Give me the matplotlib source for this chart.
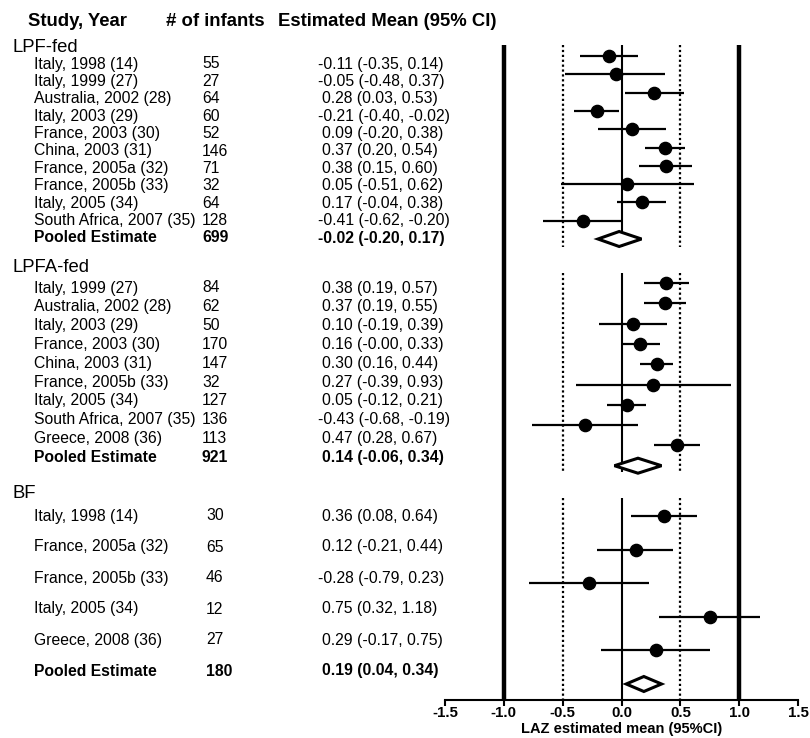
import matplotlib
matplotlib.use("Agg")
import matplotlib.pyplot as plt
from matplotlib.patches import Polygon

plt.rcParams['font.family'] = ['Liberation Sans', 'DejaVu Sans']

# ---------------- data ----------------
groups = ["LPF-fed", "LPFA-fed", "BF"]

lpf_studies = ["Italy, 1998 (14)", "Italy, 1999 (27)", "Australia, 2002 (28)", "Italy, 2003 (29)",
               "France, 2003 (30)", "China, 2003 (31)", "France, 2005a (32)", "France, 2005b (33)",
               "Italy, 2005 (34)", "South Africa, 2007 (35)"]
lpf_n = [55, 27, 64, 60, 52, 146, 71, 32, 64, 128]
lpf_text = ["-0.11 (-0.35, 0.14)", "-0.05 (-0.48, 0.37)", "0.28 (0.03, 0.53)", "-0.21 (-0.40, -0.02)",
            "0.09 (-0.20, 0.38)", "0.37 (0.20, 0.54)", "0.38 (0.15, 0.60)", "0.05 (-0.51, 0.62)",
            "0.17 (-0.04, 0.38)", "-0.41 (-0.62, -0.20)"]
lpf_est = [-0.11, -0.05, 0.28, -0.21, 0.09, 0.37, 0.38, 0.05, 0.17, -0.33]
lpf_lo = [-0.35, -0.48, 0.03, -0.40, -0.20, 0.20, 0.15, -0.51, -0.04, -0.67]
lpf_hi = [0.14, 0.37, 0.53, -0.02, 0.38, 0.54, 0.60, 0.62, 0.38, 0.00]
lpf_pool = (-0.02, -0.20, 0.17)
lpf_pool_n = 699
lpf_pool_text = "-0.02 (-0.20, 0.17)"

lpfa_studies = ["Italy, 1999 (27)", "Australia, 2002 (28)", "Italy, 2003 (29)", "France, 2003 (30)",
                "China, 2003 (31)", "France, 2005b (33)", "Italy, 2005 (34)", "South Africa, 2007 (35)",
                "Greece, 2008 (36)"]
lpfa_n = [84, 62, 50, 170, 147, 32, 127, 136, 113]
lpfa_text = ["0.38 (0.19, 0.57)", "0.37 (0.19, 0.55)", "0.10 (-0.19, 0.39)", "0.16 (-0.00, 0.33)",
             "0.30 (0.16, 0.44)", "0.27 (-0.39, 0.93)", "0.05 (-0.12, 0.21)", "-0.43 (-0.68, -0.19)",
             "0.47 (0.28, 0.67)"]
lpfa_est = [0.38, 0.37, 0.10, 0.16, 0.30, 0.27, 0.05, -0.31, 0.47]
lpfa_lo = [0.19, 0.19, -0.19, 0.00, 0.16, -0.39, -0.12, -0.76, 0.28]
lpfa_hi = [0.57, 0.55, 0.39, 0.33, 0.44, 0.93, 0.21, 0.14, 0.67]
lpfa_pool = (0.14, -0.06, 0.34)
lpfa_pool_n = 921
lpfa_pool_text = "0.14 (-0.06, 0.34)"

bf_studies = ["Italy, 1998 (14)", "France, 2005a (32)", "France, 2005b (33)", "Italy, 2005 (34)",
              "Greece, 2008 (36)"]
bf_n = [30, 65, 46, 12, 27]
bf_text = ["0.36 (0.08, 0.64)", "0.12 (-0.21, 0.44)", "-0.28 (-0.79, 0.23)", "0.75 (0.32, 1.18)",
           "0.29 (-0.17, 0.75)"]
bf_est = [0.36, 0.12, -0.28, 0.75, 0.29]
bf_lo = [0.08, -0.21, -0.79, 0.32, -0.17]
bf_hi = [0.64, 0.44, 0.23, 1.18, 0.75]
bf_pool = (0.19, 0.04, 0.34)
bf_pool_n = 180
bf_pool_text = "0.19 (0.04, 0.34)"

xticks = [-1.5, -1.0, -0.5, 0.0, 0.5, 1.0, 1.5]
xtick_labels = ["-1.5", "-1.0", "-0.5", "0.0", "0.5", "1.0", "1.5"]
col_headers = ["Study, Year", "# of infants", "Estimated Mean (95% CI)"]
xlabel = "LAZ estimated mean (95%CI)"

# ---------------- layout ----------------
W, H = 810, 738
fig = plt.figure(figsize=(W / 100, H / 100), dpi=100)
top_px, bot_px = 45, 700
left_px, right_px = 445, 798
ax = fig.add_axes([left_px / W, 1 - bot_px / H, (right_px - left_px) / W, (bot_px - top_px) / H])
ax.set_xlim(-1.5, 1.5)
ax.set_ylim(bot_px, top_px)
for s in ["top", "left", "right"]:
    ax.spines[s].set_visible(False)
ax.spines["bottom"].set_linewidth(1.5)
ax.set_yticks([])
ax.set_xticks(xticks)
ax.set_xticklabels(xtick_labels, fontsize=10.8, fontweight="bold")
ax.tick_params(axis="x", direction="out", length=4, width=1.5, pad=0.5)
ax.set_xlabel(xlabel, fontsize=10.5, fontweight="bold")
ax.xaxis.set_label_coords(0.5, -(721.5 - bot_px) / (bot_px - top_px))
ax.xaxis.label.set_va("top")


def tx(xpx, ypx, s, **kw):
    fig.text(xpx / W, 1 - ypx / H, s, va="center", ha="left", **kw)


# column headers
for xpx, s in zip([28, 166, 278], col_headers):
    tx(xpx, 21, s, fontsize=13.3, fontweight="bold")

# thick reference lines
ax.vlines([-1.0, 1.0], top_px, bot_px, colors="black", lw=3.2, zorder=2)

group_specs = [
    dict(name=groups[0], studies=lpf_studies, n=lpf_n, text=lpf_text, est=lpf_est, lo=lpf_lo, hi=lpf_hi,
         pool=lpf_pool, pool_n=lpf_pool_n, pool_text=lpf_pool_text,
         header_y=47, t_start=64, t_step=17.4, start=56, step=18.3, seg=(45, 247), ncol=202),
    dict(name=groups[1], studies=lpfa_studies, n=lpfa_n, text=lpfa_text, est=lpfa_est, lo=lpfa_lo, hi=lpfa_hi,
         pool=lpfa_pool, pool_n=lpfa_pool_n, pool_text=lpfa_pool_text,
         header_y=267, t_start=288, t_step=18.8, start=283, step=20.3, seg=(273, 472), ncol=202),
    dict(name=groups[2], studies=bf_studies, n=bf_n, text=bf_text, est=bf_est, lo=bf_lo, hi=bf_hi,
         pool=bf_pool, pool_n=bf_pool_n, pool_text=bf_pool_text,
         header_y=493, t_start=516, t_step=31.0, start=516, step=33.6, seg=(498, 700), ncol=206),
]

row_fs = 11.3
for g in group_specs:
    tx(12, g["header_y"], g["name"], fontsize=13.3)
    k = len(g["studies"])
    ys = [g["start"] + g["step"] * i for i in range(k)]
    pool_y = g["start"] + g["step"] * k
    tys = [g["t_start"] + g["t_step"] * i for i in range(k)]
    t_pool_y = g["t_start"] + g["t_step"] * k
    y0, y1 = g["seg"]
    ax.vlines([-0.5, 0.5], y0, y1, colors="black", lw=1.6, linestyles=(0, (1, 1.2)), zorder=1)
    ax.vlines([0.0], y0, y1, colors="black", lw=1.5, zorder=1)
    for ty, s, n, t in zip(tys, g["studies"], g["n"], g["text"]):
        tx(34, ty, s, fontsize=row_fs)
        tx(g["ncol"], ty, str(n), fontsize=row_fs)
        tx(318 if t.startswith("-") else 322, ty, t, fontsize=row_fs)
    ax.hlines(ys, g["lo"], g["hi"], colors="black", lw=1.6, zorder=3)
    ax.plot(g["est"], ys, "o", color="black", ms=8.8, zorder=4)
    pe, pl, ph = g["pool"]
    tx(34, t_pool_y, "Pooled Estimate", fontsize=row_fs, fontweight="bold")
    tx(g["ncol"], t_pool_y, str(g["pool_n"]), fontsize=row_fs, fontweight="bold")
    tx(318 if g["pool_text"].startswith("-") else 322, t_pool_y, g["pool_text"],
       fontsize=row_fs, fontweight="bold")
    dh = 7.5
    ax.add_patch(Polygon([(pl, pool_y), (pe, pool_y - dh), (ph, pool_y), (pe, pool_y + dh)],
                         closed=True, facecolor="white", edgecolor="black", lw=2.2, zorder=5))

fig.savefig("out.png", dpi=100)
